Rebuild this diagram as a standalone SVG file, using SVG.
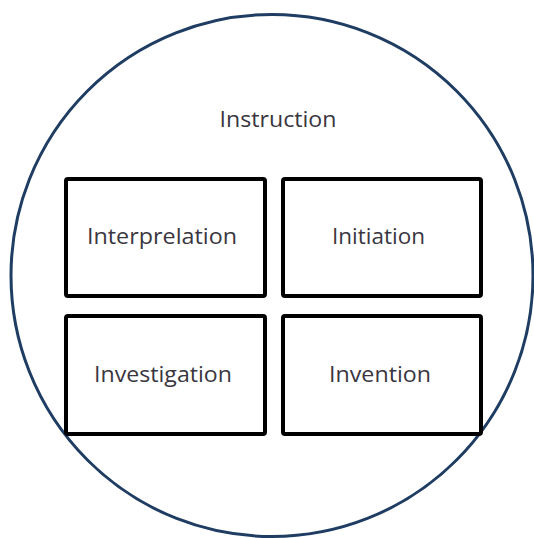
<svg xmlns="http://www.w3.org/2000/svg" width="534" height="538" viewBox="0 0 534 538">
<style>
.box{fill:#fff;stroke:#000;stroke-width:4}
.lbl{font-family:"Open Sans","Noto Sans",sans-serif;font-size:22px;fill:#3a3640;text-anchor:middle}
</style>
<rect width="534" height="538" fill="#fff"/>
<g id="instruction">
<circle cx="272" cy="275.5" r="261" fill="#fff" stroke="#1f3d63" stroke-width="3"/>
<text class="lbl" x="278" y="127" textLength="117" lengthAdjust="spacingAndGlyphs">Instruction</text>
</g>
<g id="interprelation">
<rect class="box" x="66" y="179" width="199" height="117" rx="2"/>
<text class="lbl" x="162" y="244" textLength="150" lengthAdjust="spacingAndGlyphs">Interprelation</text>
</g>
<g id="initiation">
<rect class="box" x="283" y="179" width="198" height="117" rx="2"/>
<text class="lbl" x="378.5" y="244" textLength="93" lengthAdjust="spacingAndGlyphs">Initiation</text>
</g>
<g id="investigation">
<rect class="box" x="66" y="316" width="199" height="118" rx="2"/>
<text class="lbl" x="163" y="382" textLength="138" lengthAdjust="spacingAndGlyphs">Investigation</text>
</g>
<g id="invention">
<rect class="box" x="283" y="316" width="198" height="118" rx="2"/>
<text class="lbl" x="380" y="382" textLength="102" lengthAdjust="spacingAndGlyphs">Invention</text>
</g>
<g id="connectors"/>
</svg>
